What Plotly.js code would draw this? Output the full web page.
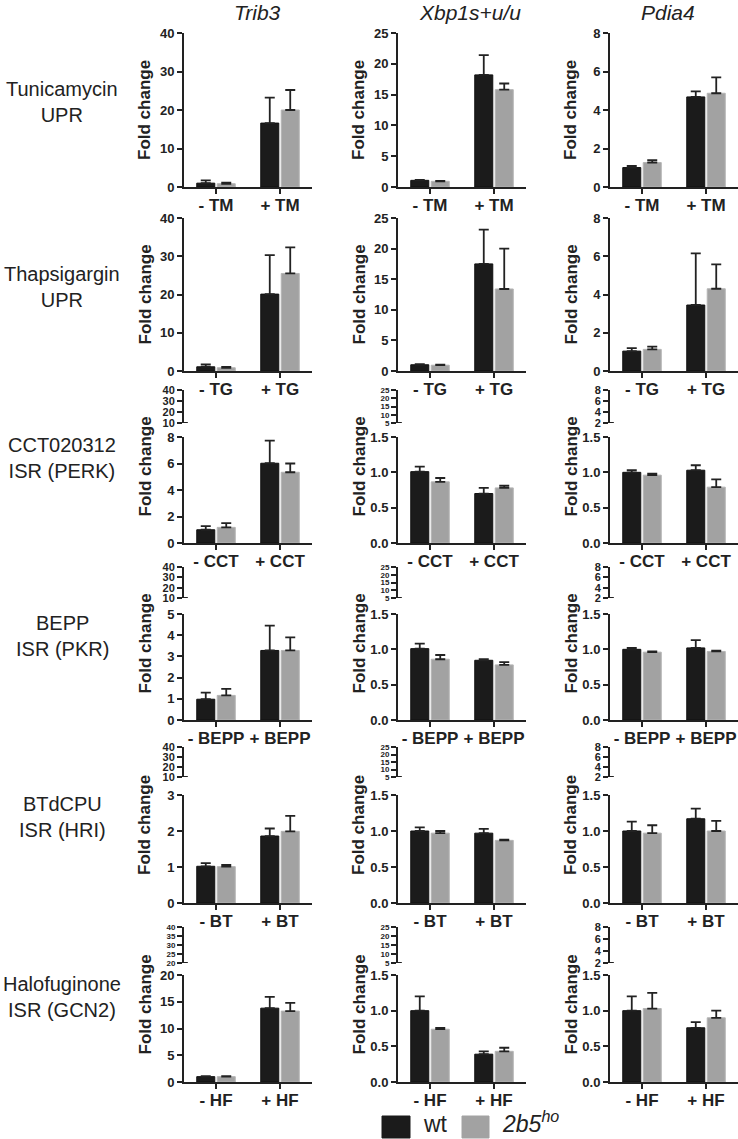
<!DOCTYPE html>
<html>
<head>
<meta charset="utf-8">
<script src="https://cdn.plot.ly/plotly-3.0.1.min.js"></script>
<style>html,body{margin:0;padding:0;background:#fff;}#chart{width:738px;height:1139px;}</style>
</head>
<body>
<div id="chart"></div>
<script>
// ---------------- DATA ----------------
const genes = ['Trib3', 'Xbp1s+u/u', 'Pdia4'];
const treatments = ['TM', 'TG', 'CCT', 'BEPP', 'BT', 'HF'];
const rowLabels = ['Tunicamycin<br>UPR', 'Thapsigargin<br>UPR', 'CCT020312<br>ISR (PERK)',
                   'BEPP<br>ISR (PKR)', 'BTdCPU<br>ISR (HRI)', 'Halofuginone<br>ISR (GCN2)'];
const seriesNames = ['wt', '2b5ho'];

// [minus, plus] per treatment row
const trib3Wt     = [[1.0, 16.6], [1.1, 20.1], [1.0, 6.02], [0.98, 3.28], [1.02, 1.86], [1.0, 13.8]];
const trib3WtErr  = [[0.7, 6.6],  [0.6, 10.2], [0.28, 1.7], [0.31, 1.17], [0.09, 0.21], [0.1, 2.1]];
const trib3Ho     = [[0.85, 20.0],[0.85, 25.5],[1.18, 5.34],[1.16, 3.28], [1.01, 1.99], [1.0, 13.25]];
const trib3HoErr  = [[0.25, 5.2], [0.25, 6.8], [0.32, 0.66],[0.31, 0.62], [0.05, 0.43], [0.1, 1.55]];

const xbpWt       = [[1.08, 18.2],[1.02, 17.5],[1.01, 0.70],[1.01, 0.845],[1.0, 0.97], [1.0, 0.39]];
const xbpWtErr    = [[0.06, 3.2], [0.08, 5.6], [0.07, 0.08],[0.07, 0.015],[0.05, 0.06],[0.2, 0.04]];
const xbpHo       = [[0.92, 15.8],[0.95, 13.4],[0.865, 0.78],[0.86, 0.78],[0.97, 0.87],[0.74, 0.43]];
const xbpHoErr    = [[0.08, 1.0], [0.1, 6.6],  [0.055, 0.03],[0.06, 0.04],[0.03, 0.01],[0.02, 0.05]];

const pdiaWt      = [[1.01, 4.68],[1.04, 3.45],[1.0, 1.03],[1.0, 1.02],[1.0, 1.17],[1.0, 0.76]];
const pdiaWtErr   = [[0.09, 0.29],[0.16, 2.7], [0.03, 0.07],[0.02, 0.11],[0.13, 0.14],[0.2, 0.08]];
const pdiaHo      = [[1.27, 4.87],[1.13, 4.3], [0.96, 0.79],[0.96, 0.97],[0.97, 1.0], [1.03, 0.9]];
const pdiaHoErr   = [[0.12, 0.82],[0.14, 1.28],[0.02, 0.11],[0.01, 0.01],[0.11, 0.14],[0.22, 0.1]];

// tick labels (lower / main segment)
const trib3Ticks = [['0','10','20','30','40'],['0','10','20','30','40'],['0','2','4','6','8'],
                    ['0','1','2','3','4','5'],['0','1','2','3'],['0','5','10','15','20']];
const xbpTicks   = [['0','5','10','15','20','25'],['0','5','10','15','20','25'],['0.0','0.5','1.0','1.5'],
                    ['0.0','0.5','1.0','1.5'],['0.0','0.5','1.0','1.5'],['0.0','0.5','1.0','1.5']];
const pdiaTicks  = [['0','2','4','6','8'],['0','2','4','6','8'],['0.0','0.5','1.0','1.5'],
                    ['0.0','0.5','1.0','1.5'],['0.0','0.5','1.0','1.5'],['0.0','0.5','1.0','1.5']];
// tick labels of upper (broken) segment
const trib3UpperTicks = [null, null, ['10','20','30','40'], ['10','20','30','40'], ['10','20','30','40'], ['20','25','30','35','40']];
const xbpUpperTicks   = [null, null, ['5','10','15','20','25'], ['5','10','15','20','25'], ['5','10','15','20','25'], ['5','10','15','20','25']];
const pdiaUpperTicks  = [null, null, ['2','4','6','8'], ['2','4','6','8'], ['2','4','6','8'], ['2','4','6','8']];

// ---------------- LAYOUT GEOMETRY (px) ----------------
const W = 738, H = 1139;
const colX = [[184, 312], [398, 526], [610, 738]];
const rowLow = [[33, 187], [218, 371], [437, 543], [614, 720], [795, 903], [975, 1082]];
const rowUp  = [null, null, [390, 423], [567, 598], [747, 777], [927, 963]];

const BLACK = '#1b1b1b', GRAY = '#a2a2a2', AX = '#222';
const FONT = 'Liberation Sans, Arial, Helvetica, sans-serif';
const px = x => x / W;
const py = y => 1 - y / H;

const geneData = [
  {wt: trib3Wt, wtE: trib3WtErr, ho: trib3Ho, hoE: trib3HoErr, ticks: trib3Ticks, up: trib3UpperTicks},
  {wt: xbpWt, wtE: xbpWtErr, ho: xbpHo, hoE: xbpHoErr, ticks: xbpTicks, up: xbpUpperTicks},
  {wt: pdiaWt, wtE: pdiaWtErr, ho: pdiaHo, hoE: pdiaHoErr, ticks: pdiaTicks, up: pdiaUpperTicks}
];

const traces = [];
const layout = {
  width: W, height: H,
  margin: {l: 0, r: 0, t: 0, b: 0},
  paper_bgcolor: '#fff', plot_bgcolor: 'rgba(0,0,0,0)',
  barmode: 'group', bargap: 0.36, bargroupgap: 0.12,
  showlegend: false,
  font: {family: FONT, color: AX},
  annotations: [], shapes: []
};

function yAxisBase(ticks, domainPx, anchor, fsize) {
  const vals = ticks.map(Number);
  return {
    domain: [py(domainPx[1]), py(domainPx[0])],
    anchor: anchor,
    range: [vals[0], vals[vals.length - 1]],
    tickmode: 'array', tickvals: vals, ticktext: ticks,
    showline: true, linewidth: 2, linecolor: AX,
    ticks: 'outside', ticklen: 5, tickwidth: 2, tickcolor: AX,
    tickfont: {family: FONT, size: fsize, weight: 'bold', color: AX},
    showgrid: false, zeroline: false, fixedrange: true
  };
}

let upperIdx = 19;
for (let r = 0; r < treatments.length; r++) {
  const cats = ['- ' + treatments[r], '+ ' + treatments[r]];
  for (let c = 0; c < genes.length; c++) {
    const idx = r * 3 + c + 1;
    const xa = 'x' + idx, ya = 'y' + idx;
    const g = geneData[c];
    traces.push({
      type: 'bar', name: seriesNames[0], x: cats, y: g.wt[r], xaxis: xa, yaxis: ya,
      marker: {color: BLACK, line: {color: '#111', width: 1}},
      error_y: {type: 'data', array: g.wtE[r], arrayminus: [0, 0], symmetric: false,
                color: AX, thickness: 1.8, width: 5},
      hoverinfo: 'skip'
    });
    traces.push({
      type: 'bar', name: seriesNames[1], x: cats, y: g.ho[r], xaxis: xa, yaxis: ya,
      marker: {color: GRAY, line: {color: '#b4b4b4', width: 1}},
      error_y: {type: 'data', array: g.hoE[r], arrayminus: [0, 0], symmetric: false,
                color: AX, thickness: 1.8, width: 5},
      hoverinfo: 'skip'
    });
    layout['xaxis' + idx] = {
      domain: [px(colX[c][0]), px(colX[c][1])],
      anchor: ya, type: 'category', range: [-0.5, 1.5],
      showline: true, linewidth: 2, linecolor: AX,
      ticks: 'outside', ticklen: 5, tickwidth: 2, tickcolor: AX,
      tickfont: {family: FONT, size: 17, weight: 'bold', color: AX},
      ticklabelstandoff: -3,
      showgrid: false, zeroline: false, fixedrange: true
    };
    layout['yaxis' + idx] = yAxisBase(g.ticks[r], rowLow[r], xa, 13);

    let top = rowLow[r][0], bot = rowLow[r][1];
    if (rowUp[r]) {
      const uid = upperIdx++;
      const nT = g.up[r].length;
      const ua = yAxisBase(g.up[r], rowUp[r], xa, nT > 4 ? 8 : 11);
      layout['yaxis' + uid] = ua;
      // helper trace so the upper segment subplot exists (no visible mark)
      traces.push({type: 'scatter', mode: 'none', x: cats, y: [null, null],
                   xaxis: xa, yaxis: 'y' + uid, hoverinfo: 'skip', showlegend: false});
      // small hook at the axis break (bottom of upper segment)
      layout.shapes.push({type: 'line', xref: xa + ' domain', yref: 'y' + uid,
        x0: 0, x1: 0.03, y0: ua.range[0], y1: ua.range[0],
        line: {color: AX, width: 2}});
      top = rowUp[r][0];
    }
    // y axis title
    layout.annotations.push({
      text: '<b>Fold change</b>', xref: 'paper', yref: 'paper',
      x: px(colX[c][0] - 39), y: py((top + bot) / 2), textangle: -90,
      showarrow: false, xanchor: 'center', yanchor: 'middle',
      font: {family: FONT, size: 17, color: AX}
    });
  }
  // row label
  const top = rowUp[r] ? rowUp[r][0] : rowLow[r][0];
  layout.annotations.push({
    text: rowLabels[r], xref: 'paper', yref: 'paper',
    x: px(62), y: py((top + rowLow[r][1]) / 2 - 8),
    showarrow: false, xanchor: 'center', yanchor: 'middle', align: 'center',
    font: {family: FONT, size: 20, color: AX}
  });
}

// column titles
const colTitleX = [257, 470, 668];
genes.forEach((g, c) => {
  layout.annotations.push({
    text: '<i>' + g + '</i>', xref: 'paper', yref: 'paper',
    x: px(colTitleX[c]), y: py(12), showarrow: false,
    xanchor: 'center', yanchor: 'middle',
    font: {family: FONT, size: 21, color: AX}
  });
});

// legend (drawn manually)
const legendBoxes = [[382, 410, BLACK], [462, 489, GRAY]];
legendBoxes.forEach(b => {
  layout.shapes.push({type: 'rect', xref: 'paper', yref: 'paper',
    x0: px(b[0]), x1: px(b[1]), y0: py(1138), y1: py(1116),
    fillcolor: b[2], line: {color: b[2], width: 1}});
});
layout.annotations.push({text: seriesNames[0], xref: 'paper', yref: 'paper',
  x: px(421), y: py(1124), xanchor: 'left', yanchor: 'middle', showarrow: false,
  font: {family: FONT, size: 23, color: AX}});
layout.annotations.push({text: '<i>2b5<sup>ho</sup></i>', xref: 'paper', yref: 'paper',
  x: px(500), y: py(1122), xanchor: 'left', yanchor: 'middle', showarrow: false,
  font: {family: FONT, size: 23, color: AX}});

Plotly.newPlot('chart', traces, layout, {staticPlot: true, displayModeBar: false});
</script>
</body>
</html>
